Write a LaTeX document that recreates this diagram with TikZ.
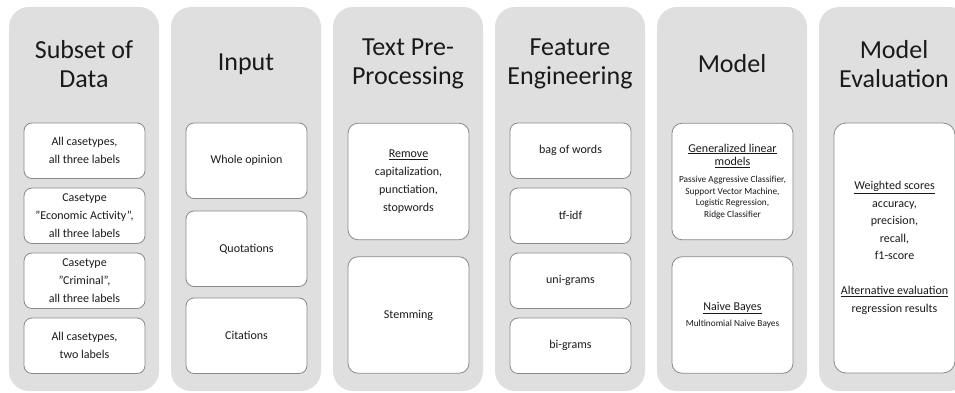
\documentclass[tikz,border=0pt]{standalone}
\usepackage{fontspec}
\setmainfont{Carlito}
\definecolor{colgray}{HTML}{DFDFDF}
\definecolor{cardline}{HTML}{8A8A8A}
\definecolor{ink}{HTML}{1A1A1A}
\newcommand{\tinyline}{\fontsize{9.3}{11.7}\selectfont}
\begin{document}
\begin{tikzpicture}[x=1pt,y=-1pt,
  column/.style={fill=colgray, draw=none, rounded corners=20pt,
    minimum width=150pt, minimum height=384pt, inner sep=0pt},
  heading/.style={text=ink, align=center, font=\fontsize{26}{29}\selectfont},
  card/.style={fill=white, draw=cardline, line width=0.8pt, rounded corners=8pt,
    minimum width=121pt, text width=117pt, inner sep=2pt, align=flush center,
    text=ink, font=\fontsize{12}{18}\selectfont},
  bigcard/.style={card, minimum height=116.5pt, rounded corners=10pt}
]
\useasboundingbox (0,0) rectangle (955,393);
\clip (0,0) rectangle (955,393);

% background columns
\node[column] (c1) at (84,199) {};
\node[column] (c2) at (246,199) {};
\node[column] (c3) at (408,199) {};
\node[column] (c4) at (570,199) {};
\node[column] (c5) at (732,199) {};
\node[column] (c6) at (894,199) {};

% headings
\node[heading] (h1) at (84,64) {Subset of\\Data};
\node[heading] (h2) at (246,64) {Input};
\node[heading] (h3) at (408,64) {Text Pre-\\Processing};
\node[heading] (h4) at (570,64) {Feature\\Engineering};
\node[heading] (h5) at (732,64) {Model};
\node[heading] (h6) at (894,64) {Model\\Evaluation};

% subset of data
\node[card, minimum height=55.5pt] (s1) at (84.5,150.75) {All casetypes,\\all three labels};
\node[card, minimum height=55.5pt] (s2) at (84.5,215.75) {Casetype\\”Economic Activity”,\\all three labels};
\node[card, minimum height=55.5pt] (s3) at (84.5,280.75) {Casetype\\”Criminal”,\\all three labels};
\node[card, minimum height=55.5pt] (s4) at (84.5,345.75) {All casetypes,\\two labels};

% input
\node[card, minimum height=75.5pt] (i1) at (246.5,160.75) {Whole opinion};
\node[card, minimum height=75.5pt] (i2) at (246.5,248.75) {Quotations};
\node[card, minimum height=75.5pt] (i3) at (246.5,335.75) {Citations};

% text pre-processing
\node[bigcard] (p1) at (408.5,181.5)
  {\underline{Remove}\\capitalization,\\punctiation,\\stopwords};
\node[bigcard] (p2) at (408.5,315) {Stemming};

% feature engineering
\node[card, minimum height=55.5pt] (f1) at (570.5,150.75) {bag of words};
\node[card, minimum height=55.5pt] (f2) at (570.5,215.75) {tf-idf};
\node[card, minimum height=55.5pt] (f3) at (570.5,280.75) {uni-grams};
\node[card, minimum height=55.5pt] (f4) at (570.5,345.75) {bi-grams};

% model
\node[bigcard] (m1) at (732.5,181.5)
  {{\fontsize{12}{13.3}\selectfont\underline{Generalized linear}\\\underline{models}\par}
   \vspace{5.5pt}
   {\tinyline Passive Aggressive Classifier,\\Support Vector Machine,\\Logistic Regression,\\Ridge Classifier\par}};
\node[bigcard] (m2) at (732.5,315)
  {{\underline{Naive Bayes}\par}
   \vspace{4.8pt}
   {\tinyline Multinomial Naive Bayes\par}};

% model evaluation
\node[card, minimum height=250pt, rounded corners=12pt] (e1) at (894.5,248)
  {\fontsize{12}{17.5}\selectfont\underline{Weighted scores}\\accuracy,\\precision,\\recall,\\f1-score\\[17.5pt]
   \underline{Alternative evaluation}\\regression results};
\end{tikzpicture}
\end{document}
